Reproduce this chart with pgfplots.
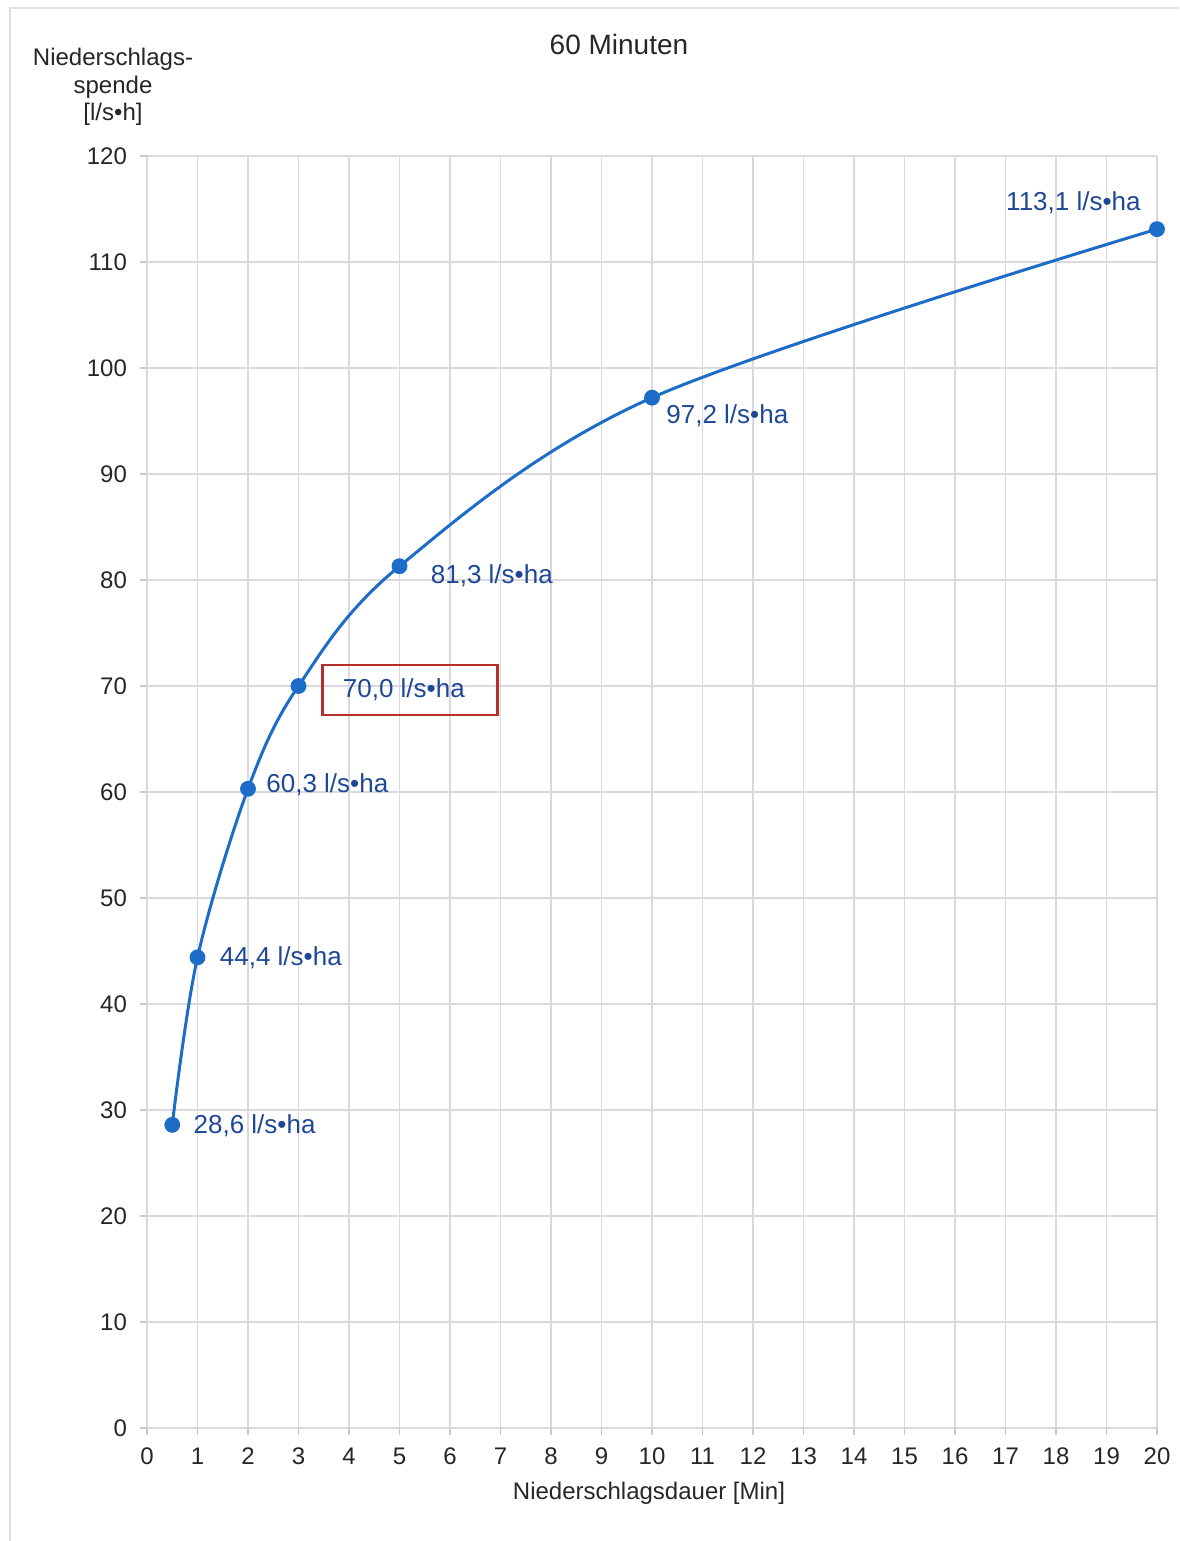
\documentclass[border=0pt]{standalone}
\usepackage{pgfplots}
\pgfplotsset{compat=1.18}
\usepackage{fontspec}
\setmainfont{Liberation Sans}
\definecolor{curve}{RGB}{28,108,200}
\definecolor{lbl}{RGB}{30,72,150}
\definecolor{gridc}{RGB}{218,218,222}
\definecolor{boxred}{RGB}{185,45,45}
\begin{document}
\begin{tikzpicture}
\useasboundingbox (-73.5pt,-56.5pt) rectangle (516pt,714pt);
\draw[gray!25, line width=0.8pt] (-68.5pt,-56.5pt) -- (-68.5pt,710pt) -- (516pt,710pt);
\begin{axis}[
  at={(0pt,0pt)}, anchor=south west,
  scale only axis,
  width=505pt, height=636pt,
  xmin=0, xmax=20, ymin=0, ymax=120,
  xtick={0,1,...,20}, ytick={0,10,...,120},
  axis line style={draw=none},
  grid=major,
  major grid style={gridc, line width=0.8pt},
  tick style={gridc!80!gray, line width=0.8pt},
  tick align=outside,
  xtick pos=left, ytick pos=left,
  major tick length=3.5pt,
  tick label style={font=\fontsize{12}{14}\selectfont, text=black!85},
  /pgf/number format/assume math mode=true,
  xticklabel style={yshift=-3pt},
  yticklabel style={xshift=-3pt},
  clip=false,
]
\addplot[curve, line width=1.5pt, smooth, tension=0.55, mark=*, mark size=3.2pt, mark options={fill=curve, draw=curve}]
  coordinates {(0.5,28.6) (1,44.4) (2,60.3) (3,70.0) (5,81.3) (10,97.2) (20,113.1)};

\begin{scope}[every node/.style={font=\fontsize{13}{15}\selectfont, text=lbl, inner sep=0pt}]
\node[anchor=west] at (axis cs:0.5,28.6) [xshift=10.5pt, yshift=-0.5pt] {28,6 l/s•ha};
\node[anchor=west] at (axis cs:1,44.4) [xshift=11pt] {44,4 l/s•ha};
\node[anchor=west] at (axis cs:2,60.3) [xshift=9pt, yshift=2pt] {60,3 l/s•ha};
\node[anchor=west] at (axis cs:3,70.0) [xshift=22pt, yshift=-2pt] {70,0 l/s•ha};
\node[anchor=west] at (axis cs:5,81.3) [xshift=15.5pt, yshift=-5pt] {81,3 l/s•ha};
\node[anchor=west] at (axis cs:10,97.2) [xshift=7pt, yshift=-9pt] {97,2 l/s•ha};
\node[anchor=east] at (axis cs:20,113.1) [xshift=-8pt, yshift=13pt] {113,1 l/s•ha};
\end{scope}
\draw[boxred, line width=1.1pt] (axis cs:3,70.0) ++(12pt,10.5pt) rectangle ++(87.5pt,-25pt);

\node[font=\fontsize{14}{16}\selectfont, text=black!85] at (236pt,691.5pt) {60 Minuten};
\node[font=\fontsize{12}{13.75}\selectfont, text=black!85, align=center] at (-17pt,670.5pt) {Niederschlags-\\spende\\{[l/s•h]}};
\node[font=\fontsize{12}{14}\selectfont, text=black!85] at (251pt,-32.5pt) {Niederschlagsdauer [Min]};
\end{axis}
\end{tikzpicture}
\end{document}
